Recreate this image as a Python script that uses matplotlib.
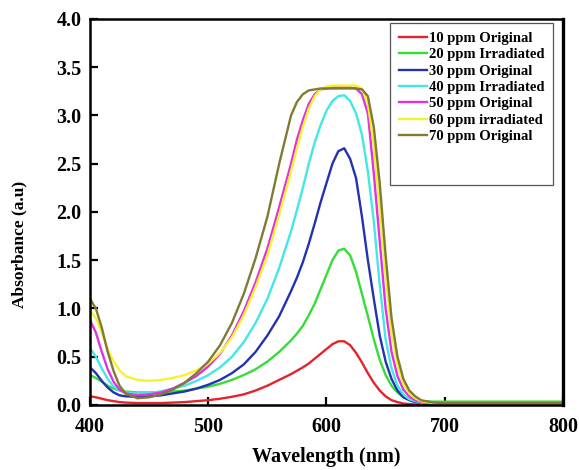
import matplotlib
matplotlib.use('Agg')
import matplotlib.pyplot as plt
from matplotlib.lines import Line2D

plt.rcParams['font.family'] = ['Liberation Serif', 'DejaVu Serif']
plt.rcParams['font.weight'] = 'bold'

# wavelength grid (nm) shared by all spectra
wavelength = [400, 405, 410, 415, 420, 425, 430, 440, 450, 460, 470, 480, 490, 500,
              510, 520, 530, 540, 550, 560, 570, 575, 580, 585, 590, 595, 600, 605, 610,
              615, 620, 625, 630, 635, 640, 645, 650, 655, 660, 665, 670, 675, 680, 690,
              700, 725, 750, 775, 800]

ppm10_orig = [0.09, 0.08, 0.065, 0.05, 0.04, 0.03, 0.025, 0.02, 0.02, 0.02, 0.025, 0.03, 0.04, 0.05,
              0.065, 0.085, 0.11, 0.15, 0.2, 0.26, 0.32, 0.355, 0.39, 0.43, 0.48, 0.53, 0.58, 0.63, 0.66,
              0.66, 0.62, 0.54, 0.44, 0.33, 0.23, 0.15, 0.09, 0.05, 0.03, 0.015, 0.01, 0.005, 0.0, 0.0,
              0.0, 0.0, 0.0, 0.0, 0.0]
ppm20_irr = [0.31, 0.28, 0.24, 0.2, 0.17, 0.15, 0.14, 0.13, 0.13, 0.135, 0.14, 0.15, 0.17, 0.19,
             0.22, 0.26, 0.31, 0.37, 0.45, 0.55, 0.67, 0.74, 0.82, 0.93, 1.05, 1.2, 1.35, 1.5, 1.6,
             1.62, 1.55, 1.38, 1.15, 0.92, 0.68, 0.47, 0.31, 0.2, 0.13, 0.08, 0.055, 0.045, 0.04, 0.035,
             0.035, 0.035, 0.035, 0.035, 0.035]
ppm30_orig = [0.39, 0.33, 0.25, 0.18, 0.13, 0.1, 0.09, 0.085, 0.09, 0.1, 0.12, 0.14, 0.17, 0.21,
              0.26, 0.33, 0.42, 0.55, 0.72, 0.92, 1.18, 1.32, 1.48, 1.67, 1.88, 2.1, 2.3, 2.5, 2.63,
              2.66, 2.55, 2.35, 1.95, 1.5, 1.1, 0.72, 0.45, 0.27, 0.15, 0.08, 0.05, 0.03, 0.02, 0.01,
              0.01, 0.01, 0.01, 0.01, 0.01]
ppm40_irr = [0.59, 0.5, 0.38, 0.27, 0.19, 0.15, 0.13, 0.12, 0.125, 0.14, 0.17, 0.2, 0.25, 0.31,
             0.39, 0.5, 0.65, 0.85, 1.1, 1.42, 1.8, 2.02, 2.25, 2.5, 2.72, 2.9, 3.05, 3.15, 3.2,
             3.21, 3.15, 3.02, 2.8, 2.42, 1.9, 1.25, 0.68, 0.38, 0.2, 0.11, 0.06, 0.04, 0.025, 0.015,
             0.01, 0.01, 0.01, 0.01, 0.01]
ppm50_orig = [0.88, 0.75, 0.55, 0.37, 0.24, 0.16, 0.12, 0.1, 0.11, 0.13, 0.17, 0.23, 0.3, 0.4,
              0.53, 0.72, 0.97, 1.27, 1.62, 2.05, 2.5, 2.75, 2.95, 3.12, 3.22, 3.27, 3.28, 3.29, 3.29,
              3.29, 3.29, 3.28, 3.22, 3.02, 2.4, 1.7, 1.0, 0.55, 0.3, 0.16, 0.09, 0.05, 0.03, 0.015,
              0.01, 0.01, 0.01, 0.01, 0.01]
ppm60_irr = [0.98, 0.9, 0.75, 0.58, 0.45, 0.36, 0.3, 0.26, 0.25, 0.26, 0.28, 0.31, 0.36, 0.43,
             0.54, 0.7, 0.93, 1.22, 1.55, 1.97, 2.42, 2.66, 2.88, 3.07, 3.2, 3.27, 3.3, 3.31, 3.31,
             3.31, 3.31, 3.31, 3.28, 3.12, 2.7, 2.05, 1.35, 0.75, 0.42, 0.22, 0.12, 0.07, 0.04, 0.02,
             0.015, 0.015, 0.015, 0.015, 0.015]
ppm70_orig = [1.1, 1.0, 0.8, 0.55, 0.35, 0.2, 0.12, 0.07, 0.08, 0.11, 0.16, 0.23, 0.33, 0.45,
              0.62, 0.85, 1.15, 1.52, 1.95, 2.5, 3.0, 3.14, 3.22, 3.26, 3.27, 3.28, 3.28, 3.28, 3.28,
              3.28, 3.28, 3.28, 3.27, 3.2, 2.88, 2.3, 1.55, 0.9, 0.5, 0.27, 0.15, 0.09, 0.05, 0.025,
              0.02, 0.02, 0.02, 0.02, 0.02]

labels = ['10 ppm Original', '20 ppm Irradiated', '30 ppm Original', '40 ppm Irradiated',
          '50 ppm Original', '60 ppm irradiated', '70 ppm Original']
series = [ppm10_orig, ppm20_irr, ppm30_orig, ppm40_irr, ppm50_orig, ppm60_irr, ppm70_orig]
colors = ['#e3242b', '#36dd36', '#2232b0', '#44e6e6', '#e232e0', '#f4f232', '#7f7a34']

fig = plt.figure(figsize=(5.79, 4.70), dpi=100)
ax = fig.add_axes([0.1554, 0.1383, 0.817, 0.8213])

handles = []
for y, c, lab in zip(series, colors, labels):
    line, = ax.plot(wavelength, y, color=c, lw=1.7, label=lab)
    handles.append(line)

ax.set_xlim(400, 800)
ax.set_ylim(0, 4.0)
ax.set_xticks([400, 500, 600, 700, 800])
ax.set_yticks([0.0, 0.5, 1.0, 1.5, 2.0, 2.5, 3.0, 3.5, 4.0])
ax.set_yticklabels(['0.0', '0.5', '1.0', '1.5', '2.0', '2.5', '3.0', '3.5', '4.0'])
ax.tick_params(direction='in', length=6, width=1.6, labelsize=14.5, pad=6)
ax.tick_params(axis='x', pad=9)
for s in ax.spines.values():
    s.set_linewidth(1.8)
ax.spines['right'].set_linewidth(2.4)

ax.set_xlabel('Wavelength (nm)', fontsize=14.5, fontweight='bold')
ax.xaxis.set_label_coords(0.5, -0.108)
ax.set_ylabel('Absorbance (a.u)', fontsize=12.5, fontweight='bold')
ax.yaxis.set_label_coords(-0.133, 0.417)

# blank rows reproduce the empty space at the bottom of the legend box
blank = [Line2D([], [], color='none'), Line2D([], [], color='none')]
leg = ax.legend(handles + blank, labels + [' ', ' '], loc='upper right',
                bbox_to_anchor=(0.979, 0.99), borderaxespad=0, fancybox=False,
                edgecolor='#555555', framealpha=1, fontsize=10.5, handlelength=1.9,
                handletextpad=0.15, labelspacing=0.22, borderpad=0.6)
leg.get_frame().set_linewidth(0.9)
for t in leg.get_texts():
    t.set_fontweight('bold')

fig.savefig('out.png', dpi=100)
